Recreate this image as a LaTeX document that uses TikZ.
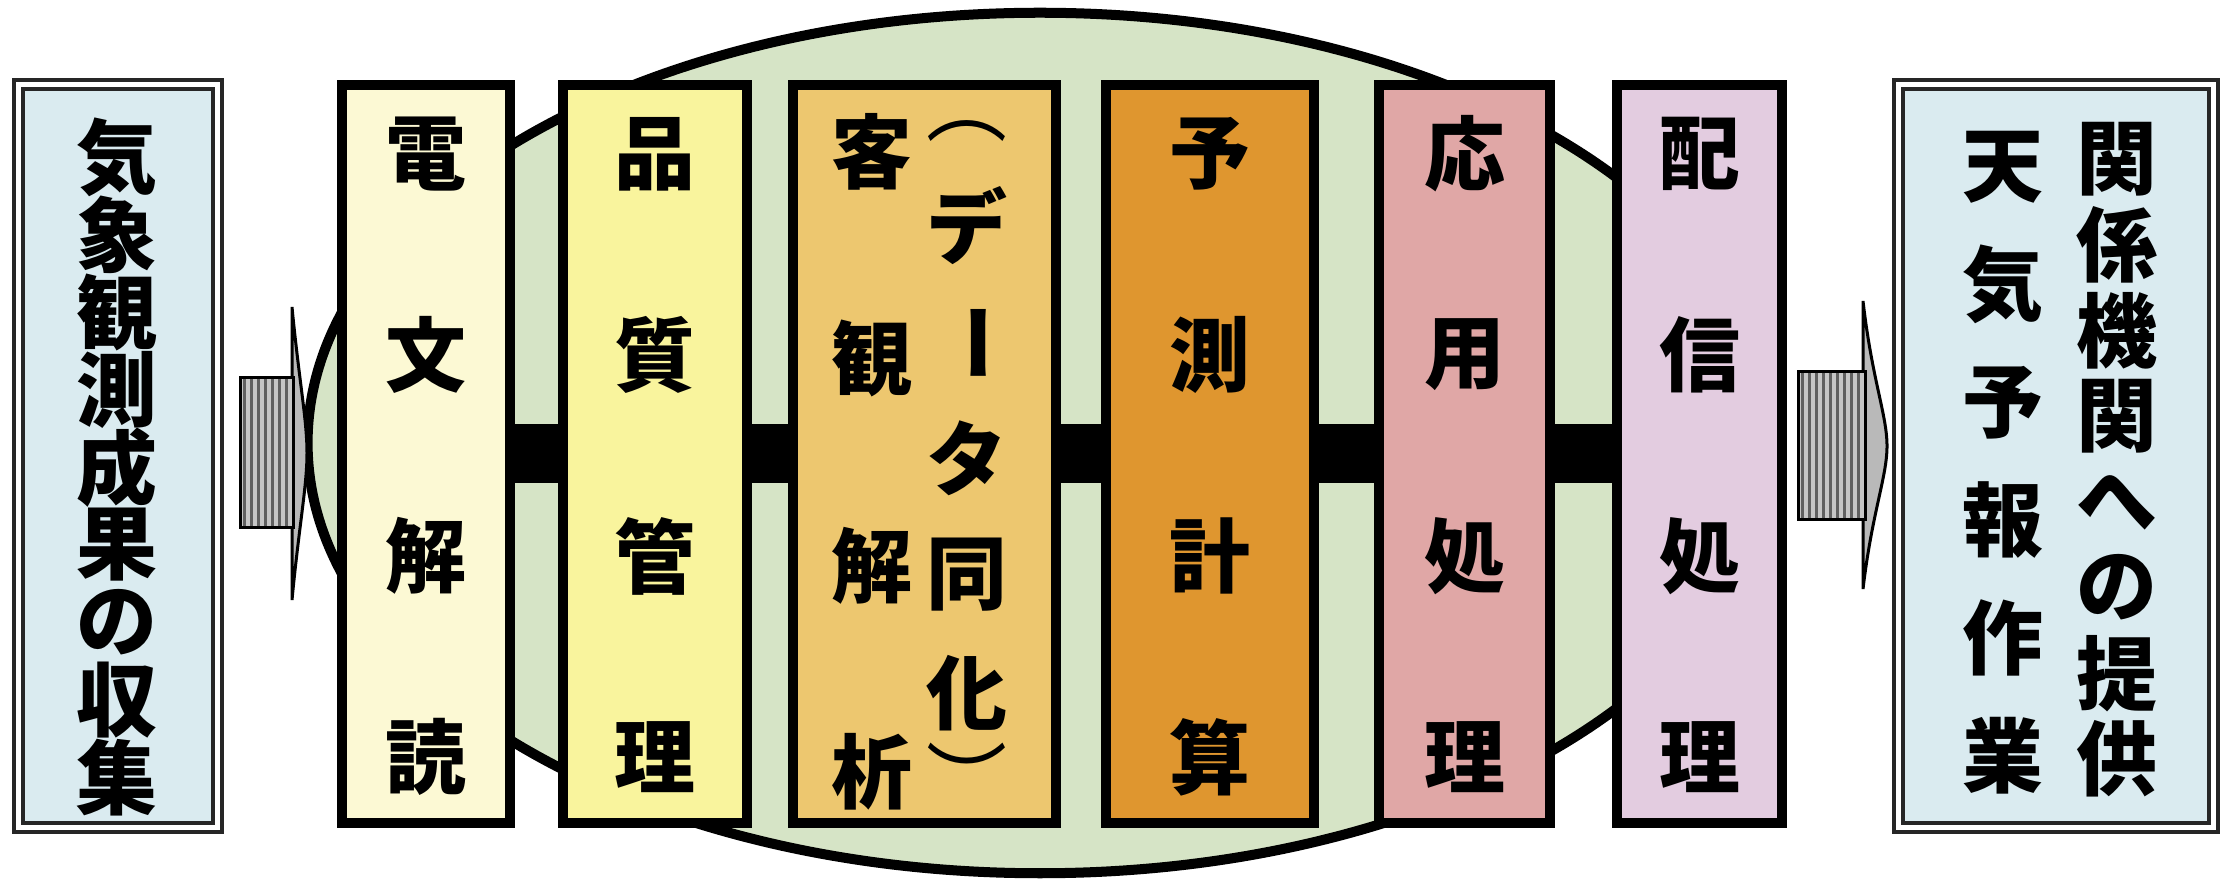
\documentclass[tikz,border=0pt]{standalone}
\usepackage{fontspec}
\newfontfamily\jpfont{Noto Sans CJK JP}
\usetikzlibrary{calc,shadows}
\definecolor{cream}{HTML}{FCF9D4}
\definecolor{yel}{HTML}{F9F49D}
\definecolor{lorange}{HTML}{EDC76F}
\definecolor{orng}{HTML}{DF962F}
\definecolor{pinkish}{HTML}{E0A7A6}
\definecolor{lav}{HTML}{E3CCE0}
\definecolor{ellgreen}{HTML}{D6E4C6}
\definecolor{lblue}{HTML}{DAEBF0}
\begin{document}
\begin{tikzpicture}[x=0.01cm,y=-0.01cm,
  jp/.style={font=\jpfont\bfseries\fontsize{23pt}{23pt}\selectfont, inner sep=0pt},
  jpthin/.style={font=\jpfont\fontsize{23pt}{23pt}\selectfont, inner sep=0pt},
  proc/.style={draw=black, line width=0.1cm, minimum height=7.38cm, inner sep=0pt,
    drop shadow={shadow xshift=-0.03cm, shadow yshift=0.04cm, fill=black, opacity=0.3}},
  endbox/.style={draw=black!85, line width=0.04cm, double=white, double distance=0.05cm,
    fill=lblue, minimum height=7.43cm, inner sep=0pt},
  bar/.style={fill=black},
  shaft/.style={fill=gray!45},
  stripe/.style={fill=gray!75!black},
  head/.style={fill=gray!55, draw=black, line width=0.03cm}
]
\useasboundingbox (0,0) rectangle (2231,880);

% background ellipse
\draw[line width=0.1cm, fill=ellgreen] (1040,443) ellipse [x radius=7.32cm, y radius=4.30cm];

% end boxes
\node[endbox, minimum width=1.99cm] (src) at (118,456) {};
\node[endbox, minimum width=3.15cm] (dst) at (2056,456) {};

% process boxes
\node[proc, fill=cream,   minimum width=1.68cm] (b1) at (426,454) {};
\node[proc, fill=yel,     minimum width=1.84cm] (b2) at (655,454) {};
\node[proc, fill=lorange, minimum width=2.63cm] (b3) at (924.5,454) {};
\node[proc, fill=orng,    minimum width=2.08cm] (b4) at (1210,454) {};
\node[proc, fill=pinkish, minimum width=1.71cm] (b5) at (1464.5,454) {};
\node[proc, fill=lav,     minimum width=1.65cm] (b6) at (1699.5,454) {};

% connector bars
\foreach \a/\b in {b1/b2,b2/b3,b3/b4,b4/b5,b5/b6}
  \fill[bar] ($(\a.east)+(0,-29.5)$) rectangle ($(\b.west)+(0,29.5)$);

% left block arrow
\filldraw[head] (292,307) .. controls (299,380) and (307,420) .. (307,453)
  .. controls (307,486) and (299,526) .. (292,600) -- cycle;
\fill[shaft] (240,378) rectangle (293,528);
\foreach \x in {243,250,...,290} \fill[stripe] (\x,378) rectangle (\x+3,528);
\draw[line width=0.03cm] (240,378) rectangle (293,528);

% right block arrow
\filldraw[head] (1863,301) .. controls (1872,380) and (1887,415) .. (1887,446)
  .. controls (1887,477) and (1872,512) .. (1863,589) -- cycle;
\fill[shaft] (1798,372) rectangle (1865,520);
\foreach \x in {1801,1808,...,1862} \fill[stripe] (\x,372) rectangle (\x+3,520);
\draw[line width=0.03cm] (1798,372) rectangle (1865,520);

% texts
\foreach \ch [count=\i] in {気,象,観,測,成,果,の,収,集}
  \node[jp] (s\i) at (117,{157+(\i-1)*77.6}) {\ch};
\foreach \ch [count=\i] in {関,係,機,関,へ,の,提,供}
  \node[jp] (dr\i) at (2117,{159+(\i-1)*85.7}) {\ch};
\foreach \ch [count=\i] in {天,気,予,報,作,業}
  \node[jp] (dl\i) at (2003,{167+(\i-1)*117.8}) {\ch};

\foreach \ch [count=\i] in {電,文,解,読}
  \node[jp] (ta\i) at (426,{154+(\i-1)*201}) {\ch};
\foreach \ch [count=\i] in {品,質,管,理}
  \node[jp] (tb\i) at (655,{154+(\i-1)*201}) {\ch};
\foreach \ch [count=\i] in {客,観,解,析}
  \node[jp] (tc\i) at (872,{152+(\i-1)*206.7}) {\ch};
\node[jpthin] (p1) at (967,131) {︵};
\node[jp] (c1) at (967,226) {デ};
\node[jp, rotate=-90] (c2) at (967,343) {ー};
\node[jp] (c3) at (967,458) {タ};
\node[jp] (c4) at (967,575) {同};
\node[jp] (c5) at (967,693) {化};
\node[jpthin] (p2) at (967,777) {︶};
\foreach \ch [count=\i] in {予,測,計,算}
  \node[jp] (td\i) at (1210,{154+(\i-1)*201}) {\ch};
\foreach \ch [count=\i] in {応,用,処,理}
  \node[jp] (te\i) at (1464.5,{154+(\i-1)*201}) {\ch};
\foreach \ch [count=\i] in {配,信,処,理}
  \node[jp] (tf\i) at (1699.5,{154+(\i-1)*201}) {\ch};
\end{tikzpicture}
\end{document}
